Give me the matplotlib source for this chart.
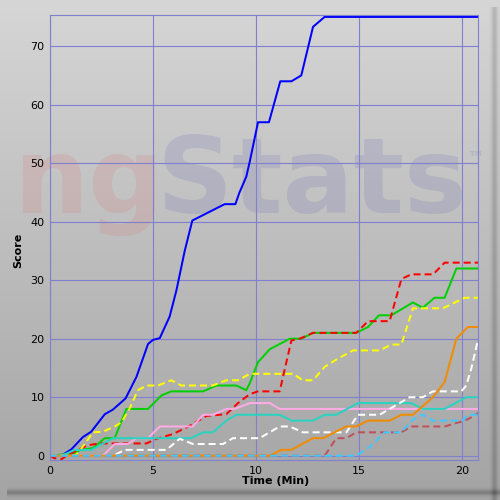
import numpy as np
import matplotlib
matplotlib.use('Agg')
import matplotlib.pyplot as plt

# score over time, one list pair per player
blue_t = [0, 0.55, 1.04, 1.6, 2.0, 2.66, 3.06, 3.67, 4.2, 4.76, 5.0, 5.33, 5.81, 6.14, 6.54, 6.91,
          8.48, 9.0, 9.2, 9.53, 9.7, 10.1, 10.63, 11.18, 11.72, 12.2, 12.77, 13.33, 20.78]
blue_v = [0, 0, 1.1, 3.2, 4.1, 7.1, 7.9, 9.8, 13.5, 19.1, 19.8, 20.1, 23.8, 28.3, 35, 40.2,
          43, 43, 45, 47.7, 50.3, 57, 57, 64, 64, 65, 73.3, 75, 75]

green_t = [0, 1.2, 1.44, 2.09, 2.66, 3.14, 3.71, 4.76, 5.41, 5.89, 7.43, 8.08, 9.05, 9.53, 9.7,
           10.1, 10.67, 11.64, 12.2, 12.77, 14.87, 15.44, 15.97, 16.57, 17.62, 18.1, 18.67,
           19.16, 19.73, 20.78]
green_v = [0, 0.4, 1.0, 1.3, 3, 3, 8, 8, 10.3, 11, 11, 12, 12, 11.2, 12.4,
           16, 18.2, 20, 20, 21, 21, 22, 24, 24, 26.2, 25.3, 27, 27, 32, 32]

red_t = [0, 0.2, 0.55, 0.9, 1.84, 2.41, 4.68, 5.17, 5.97, 6.78, 7.59, 8.56, 9.13, 9.69, 10.1,
         11.15, 11.72, 12.12, 12.77, 14.87, 15.44, 16.49, 17.06, 17.54, 18.6, 19.16, 20.78]
red_v = [0, -0.4, -0.6, 0.2, 1.8, 2.1, 2.1, 2.9, 3.7, 5.1, 6.8, 7.1, 9, 10.5, 11,
         11, 19.7, 20, 21, 21, 23, 23, 30.2, 31, 31, 33, 33]

yellow_t = [0, 1.2, 1.44, 2.09, 2.57, 3.14, 3.47, 3.87, 4.27, 4.68, 5.24, 5.89, 6.38, 7.91, 8.56,
            9.13, 9.7, 11.8, 12.28, 12.77, 13.34, 13.98, 14.71, 16.0, 16.57, 17.06, 17.62,
            19.08, 20.13, 20.78]
yellow_v = [0, 0, 0.8, 4, 4.1, 5, 5.7, 8.1, 11.2, 12, 12, 12.9, 12, 12, 12.9,
            12.9, 14, 14, 12.9, 12.9, 15.2, 16.6, 18, 18, 19, 19, 25.2, 25.2, 27, 27]

pink_t = [0, 2.57, 3.14, 3.79, 4.19, 4.76, 5.33, 6.94, 7.43, 7.91, 8.56, 8.97, 9.7, 10.67, 11.15, 20.78]
pink_v = [0, 0, 2, 2, 3, 3, 5, 5, 7, 7, 8, 8, 9, 9, 8, 8]

teal_t = [0, 0.55, 1.2, 2.01, 3.06, 6.86, 7.43, 7.91, 8.56, 9.05, 11.15, 11.72, 12.77, 13.34,
          13.9, 14.95, 17.54, 18.1, 19.16, 20.21, 20.78]
teal_v = [0, 0, 1, 1, 3, 3, 4, 4, 6, 7, 7, 6, 6, 7, 7, 9, 9, 8, 8, 10, 10]

white_t = [0, 3.06, 3.63, 5.65, 6.3, 6.94, 8.4, 8.88, 10.18, 11.15, 11.64, 12.28, 14.39, 14.95,
           16.0, 16.49, 17.46, 18.1, 18.59, 19.97, 20.21, 20.46, 20.78]
white_v = [0, 0, 1, 1, 2.9, 2, 2, 3, 3, 5, 5, 4, 4, 7, 7, 8, 10, 10, 11, 11, 12, 15, 19.8]

orange_t = [0, 10.67, 11.23, 11.72, 12.77, 13.25, 14.39, 14.87, 15.44, 16.49, 17.06, 17.62,
            18.59, 19.16, 19.73, 20.29, 20.78]
orange_v = [0, 0, 1, 1, 3, 3, 5, 5, 6, 6, 7, 7, 10, 12.6, 20, 22, 22]

brown_t = [0, 13.34, 13.9, 14.39, 14.87, 17.06, 17.54, 19.16, 20.13, 20.37, 20.78]
brown_v = [0, 0, 3, 3, 4, 4, 5, 5, 6, 6.4, 7.3]

sky_t = [0, 14.87, 15.52, 16.25, 17.06, 17.62, 18.1, 18.59, 20.05, 20.29, 20.78]
sky_v = [0, 0, 1.5, 4, 4, 6.2, 7, 6, 6, 7, 7]

x_ticks = [0, 5, 10, 15, 20]
y_ticks = [0, 10, 20, 30, 40, 50, 60, 70]

series = [
    (blue_t, blue_v, '#0000ff', '-'),
    (green_t, green_v, '#00d000', '-'),
    (red_t, red_v, '#ff0000', '--'),
    (yellow_t, yellow_v, '#ffff00', '--'),
    (pink_t, pink_v, '#ffaae6', '-'),
    (teal_t, teal_v, '#2ad2c0', '-'),
    (white_t, white_v, '#ffffff', '--'),
    (orange_t, orange_v, '#f08c00', '-'),
    (brown_t, brown_v, '#c0505a', '--'),
    (sky_t, sky_v, '#40c8ff', '--'),
]

fig = plt.figure(figsize=(5, 5), dpi=100)

# grey gradient panel with a soft shadow on the right and bottom
yy, xx = np.mgrid[0:500, 0:500]
g = 214 - 50 * (yy / 500.0)
g = g - 32 * np.exp(-((xx - 494) / 3.0) ** 2) * (yy > 6)
g = g - 38 * np.exp(-((yy - 492) / 3.0) ** 2) * (xx > 6)
g = np.clip(g, 0, 255) / 255.0
bg = np.dstack([g, g, g])
fig.figimage(bg, xo=0, yo=0, origin='upper', zorder=-10)

# watermark
fig.text(0.026, 0.575, 'ng', fontsize=76, fontweight='bold', color='#e06060',
         alpha=0.15, zorder=-5, family='DejaVu Sans')
fig.text(0.312, 0.575, 'Stats', fontsize=76, fontweight='bold', color='#6464b4',
         alpha=0.18, zorder=-5, family='DejaVu Sans')
fig.text(0.935, 0.675, '\u2122', fontsize=12, fontweight='bold', color='#6464b4',
         alpha=0.18, zorder=-5)

ax = fig.add_axes([0.1, 0.08, 0.856, 0.89])
ax.patch.set_alpha(0)

for t, v, c, ls in series:
    if ls == '--':
        ax.plot(t, v, color=c, lw=1.44, dashes=(3.5, 2))
    else:
        ax.plot(t, v, color=c, lw=1.44)

ax.set_xlim(0, 20.78)
ax.set_ylim(-0.73, 75.33)
ax.set_xticks(x_ticks)
ax.set_yticks(y_ticks)
ax.grid(True, color='#8080d0', lw=0.8)
ax.set_axisbelow(True)
for s in ax.spines.values():
    s.set_color('#8080d0')
    s.set_linewidth(0.8)
ax.tick_params(length=0, labelsize=8, pad=4, colors='black')

ax.set_xlabel('Time (Min)', fontsize=8, fontweight='bold')
ax.set_ylabel('Score', fontsize=8, fontweight='bold')
ax.xaxis.set_label_coords(0.528, -0.037)
ax.yaxis.set_label_coords(-0.062, 0.47)

fig.savefig('out.png', dpi=100)
